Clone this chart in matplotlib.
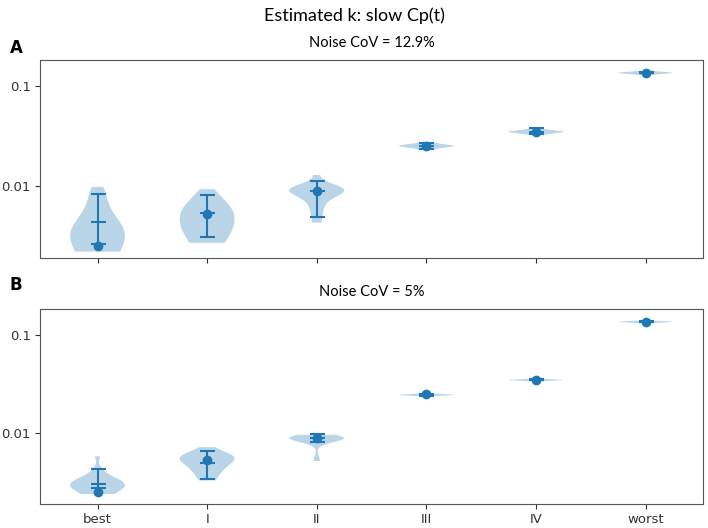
import matplotlib
matplotlib.use("Agg")
import matplotlib.pyplot as plt
import numpy as np
from matplotlib.ticker import FixedLocator, FixedFormatter, NullLocator

# categories / true value (dot)
cats = ["best", "I", "II", "III", "IV", "worst"]
k_true = [0.0025, 0.0053, 0.0089, 0.0252, 0.0349, 0.136]

# estimated k samples, noise CoV = 12.9%
a_best = [0.0022, 0.0023, 0.0024, 0.0025, 0.0026, 0.0027, 0.0028, 0.0029, 0.0031,
          0.0033, 0.0035, 0.0038, 0.0041, 0.0044, 0.0048, 0.0052, 0.0057,
          0.0062, 0.0068, 0.0075, 0.0083, 0.0091, 0.0098]
a_I = [0.0027, 0.0029, 0.0032, 0.0035, 0.0039, 0.0043, 0.0047, 0.005, 0.0053,
       0.0056, 0.006, 0.0064, 0.0069, 0.0075, 0.0082, 0.0093]
a_II = [0.0043, 0.0055, 0.0068, 0.0078, 0.0083, 0.0086, 0.0088, 0.0089, 0.009,
        0.0091, 0.0092, 0.0094, 0.0097, 0.0101, 0.0107, 0.0129]
a_III = [0.0232, 0.0242, 0.0247, 0.025, 0.0252, 0.0254, 0.0257, 0.0262, 0.0272]
a_IV = [0.0325, 0.0338, 0.0344, 0.0348, 0.035, 0.0352, 0.0356, 0.0362, 0.0378]
a_worst = [0.130, 0.134, 0.135, 0.136, 0.137, 0.138, 0.142]
a_mean = [0.00433, 0.0054, 0.0089, 0.0252, 0.0349, 0.136]
a_lo = [0.00265, 0.0031, 0.0049, 0.0237, 0.0328, 0.1345]
a_hi = [0.0083, 0.0081, 0.0112, 0.0268, 0.0385, 0.1375]

# estimated k samples, noise CoV = 5%
b_best = [0.0024, 0.0026, 0.0027, 0.0028, 0.0028, 0.0029, 0.0029, 0.003, 0.003,
          0.0031, 0.0032, 0.0033, 0.0035, 0.0038, 0.0043, 0.0058]
b_I = [0.0033, 0.0038, 0.0042, 0.0046, 0.0049, 0.0051, 0.0053, 0.0055, 0.0056,
       0.0058, 0.006, 0.0062, 0.0065, 0.0072]
b_II = [0.0052, 0.0082, 0.0085, 0.0087, 0.0088, 0.0089, 0.0089, 0.009, 0.0091,
        0.0093, 0.0096]
b_III = [0.0238, 0.0242, 0.0244, 0.0245, 0.0246, 0.0248, 0.0252]
b_IV = [0.0338, 0.0343, 0.0346, 0.0347, 0.0348, 0.035, 0.0356]
b_worst = [0.132, 0.134, 0.135, 0.1355, 0.136, 0.137, 0.139]
b_mean = [0.00302, 0.0050, 0.0089, 0.0245, 0.0348, 0.1355]
b_lo = [0.00275, 0.0034, 0.0082, 0.0241, 0.0343, 0.1345]
b_hi = [0.00427, 0.0065, 0.0097, 0.0249, 0.0352, 0.1368]

panels = [
    ("Noise CoV = 12.9%", [a_best, a_I, a_II, a_III, a_IV, a_worst], a_mean, a_lo, a_hi),
    ("Noise CoV = 5%", [b_best, b_I, b_II, b_III, b_IV, b_worst], b_mean, b_lo, b_hi),
]

blue = "#1f77b4"
pos = np.arange(1, len(cats) + 1)

fig = plt.figure(figsize=(7.08, 5.28), dpi=100)
rects = [[0.0565, 0.5114, 0.9365, 0.375], [0.0565, 0.0455, 0.9365, 0.3693]]

for i, (ttl, samples, mean, lo, hi) in enumerate(panels):
    ax = fig.add_axes(rects[i])
    ax.set_yscale("log")
    parts = ax.violinplot(samples, positions=pos, widths=0.5, showextrema=False)
    for b in parts["bodies"]:
        b.set_facecolor(blue)
        b.set_edgecolor("none")
        b.set_alpha(0.3)
    mean = np.array(mean)
    yerr = [mean - np.array(lo), np.array(hi) - mean]
    ax.errorbar(pos, mean, yerr=yerr, fmt="none", ecolor=blue, elinewidth=1.5,
                capsize=5.4, capthick=1.5)
    ax.plot(pos, mean, ls="none", marker="_", ms=10.8, mew=1.5, color=blue)
    ax.plot(pos, k_true, ls="none", marker="o", ms=6, color=blue)

    ax.set_ylim(0.0019, 0.183)
    ax.set_xlim(0.475, 6.525)
    ax.yaxis.set_major_locator(FixedLocator([0.01, 0.1]))
    ax.yaxis.set_major_formatter(FixedFormatter(["0.01", "0.1"]))
    ax.yaxis.set_minor_locator(NullLocator())
    ax.set_xticks(pos)
    if i == 0:
        ax.set_xticklabels([])
    else:
        ax.set_xticklabels(cats)
    ax.tick_params(labelsize=9.5, colors="#333333", pad=3)
    for s in ax.spines.values():
        s.set_color("#555555")
    ax.set_title(ttl, fontsize=10.5, family="Lato", pad=9)

fig.text(0.5, 0.97, "Estimated k: slow Cp(t)", ha="center", va="center",
         fontsize=13, family="Lato")
fig.text(0.014, 0.91, "A", fontsize=12, fontweight="bold", va="center")
fig.text(0.014, 0.46, "B", fontsize=12, fontweight="bold", va="center")

fig.savefig("out.png", dpi=100)
